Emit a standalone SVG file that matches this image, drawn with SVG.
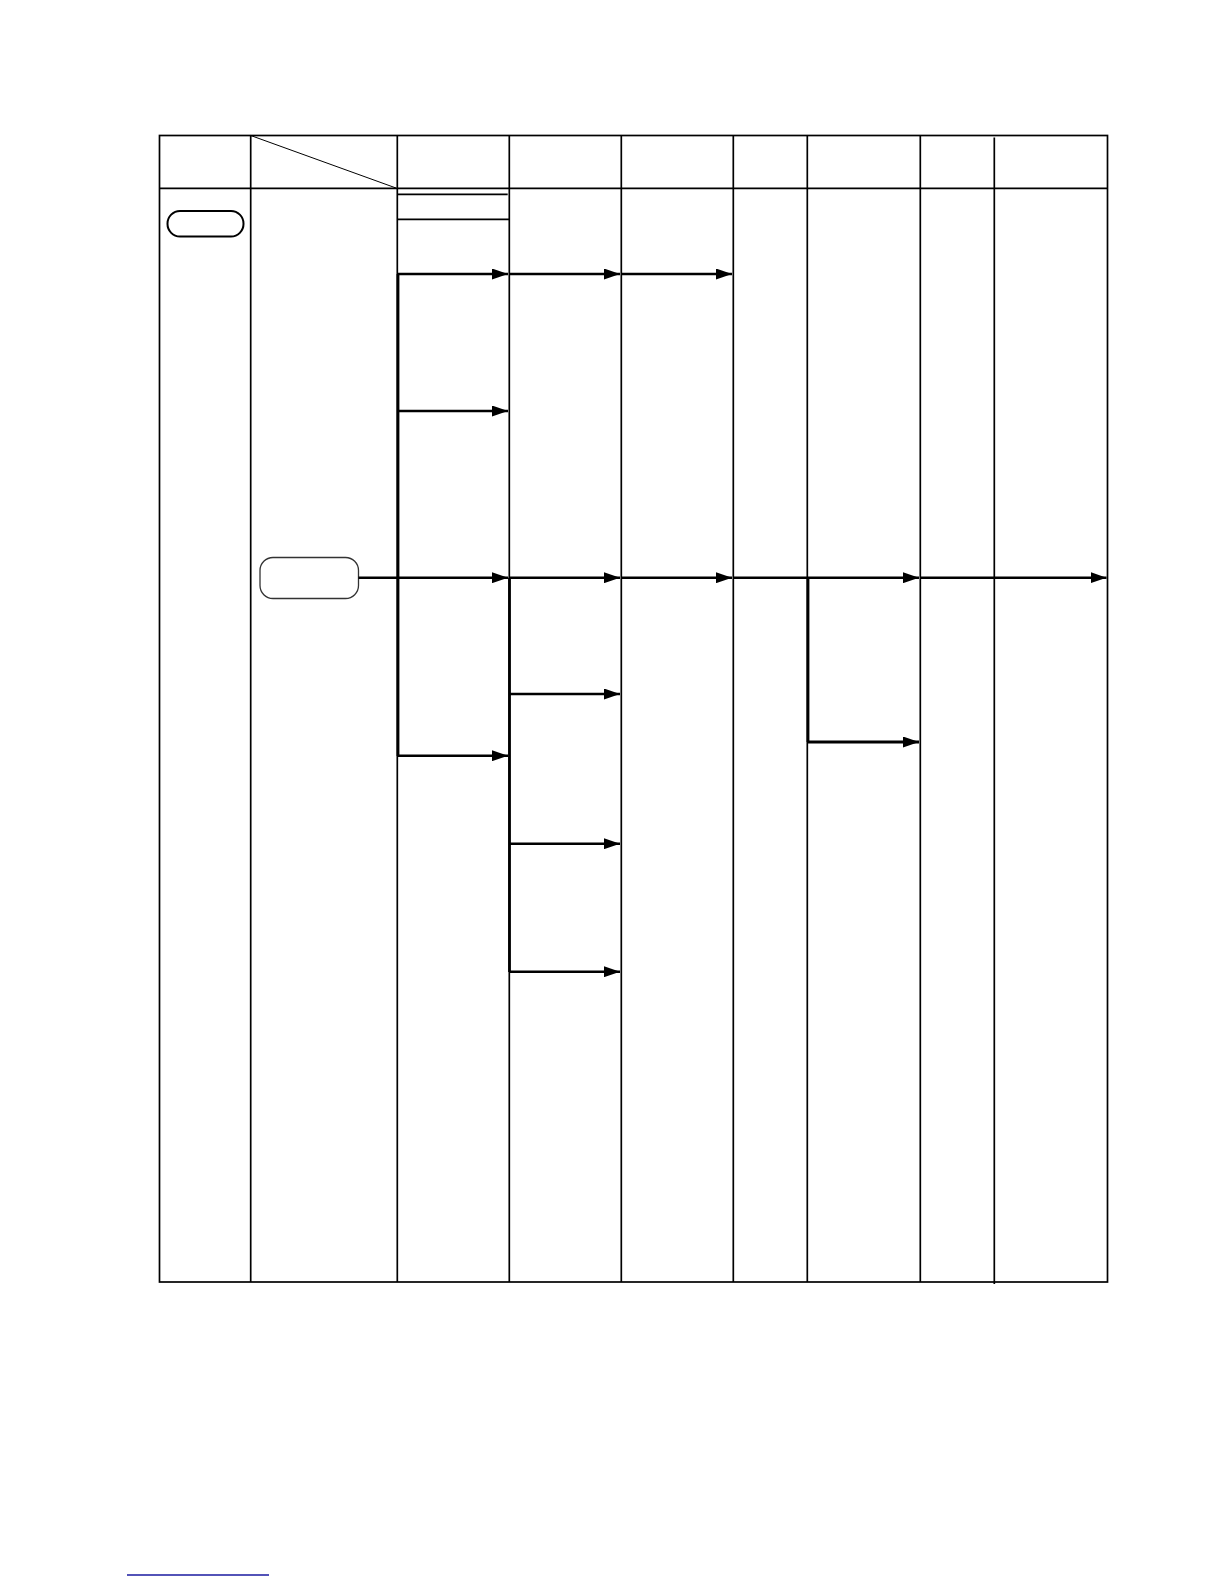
<svg xmlns="http://www.w3.org/2000/svg" width="1224" height="1584" viewBox="0 0 1224 1584">
<style>
.grid{stroke:#000;stroke-width:1.7;fill:none}
.thin{stroke:#000;stroke-width:1;fill:none}
.flow{stroke:#000;stroke-width:2.4;fill:none}
.trunk{stroke:#000;stroke-width:2.8;fill:none}
</style>
<defs>
<marker id="ah" viewBox="0 0 16 11" refX="16" refY="5.5" markerWidth="16" markerHeight="11" markerUnits="userSpaceOnUse" orient="auto">
<path d="M0,0 L16,5.5 L0,11 Z" fill="#000"/>
</marker>
</defs>
<rect width="1224" height="1584" fill="#fff"/>
<g id="table">
<rect class="grid" x="159.5" y="135.5" width="948" height="1146.5"/>
<line class="grid" x1="159.5" y1="188.3" x2="1107.5" y2="188.3"/>
<line class="grid" x1="250.7" y1="135.5" x2="250.7" y2="1282"/>
<line class="grid" x1="397.3" y1="135.5" x2="397.3" y2="1282"/>
<line class="grid" x1="509.3" y1="135.5" x2="509.3" y2="1282"/>
<line class="grid" x1="621.3" y1="135.5" x2="621.3" y2="1282"/>
<line class="grid" x1="733.3" y1="135.5" x2="733.3" y2="1282"/>
<line class="grid" x1="807.3" y1="135.5" x2="807.3" y2="1282"/>
<line class="grid" x1="920.3" y1="135.5" x2="920.3" y2="1282"/>
<line class="grid" x1="994.3" y1="137.5" x2="994.3" y2="1284"/>
<line class="thin" x1="250.7" y1="135.5" x2="396" y2="188"/>
<line class="grid" x1="397.3" y1="194.3" x2="507.7" y2="194.3"/>
<line class="grid" x1="397.3" y1="219.3" x2="509.3" y2="219.3"/>
</g>
<g id="node-start">
<rect x="167.5" y="211" width="76" height="25.5" rx="12.5" ry="12.5" fill="#fff" stroke="#000" stroke-width="2"/>
</g>
<g id="node-process">
<rect x="260" y="557.5" width="98.5" height="41" rx="13" ry="13" fill="#fff" stroke="#333" stroke-width="1.3"/>
</g>
<g id="connectors">
<path class="trunk" d="M398,274 V756"/>
<path class="trunk" d="M509.5,577.7 V972"/>
<path class="trunk" d="M808,578 V742"/>
<path class="flow" d="M398,274 H508" marker-end="url(#ah)"/>
<path class="flow" d="M509.3,274 H620" marker-end="url(#ah)"/>
<path class="flow" d="M621.3,274 H732" marker-end="url(#ah)"/>
<path class="flow" d="M398,411 H508" marker-end="url(#ah)"/>
<path class="flow" d="M358.5,577.7 H508" marker-end="url(#ah)"/>
<path class="flow" d="M509.3,577.7 H620" marker-end="url(#ah)"/>
<path class="flow" d="M621.3,577.7 H732" marker-end="url(#ah)"/>
<path class="flow" d="M733.3,577.7 H919" marker-end="url(#ah)"/>
<path class="flow" d="M920.3,577.7 H1106.5" marker-end="url(#ah)"/>
<path class="flow" d="M398,755.7 H508" marker-end="url(#ah)"/>
<path class="flow" d="M509.3,694 H620" marker-end="url(#ah)"/>
<path class="flow" d="M509.3,843.7 H620" marker-end="url(#ah)"/>
<path class="flow" d="M509.3,971.7 H620" marker-end="url(#ah)"/>
<path class="trunk" d="M808,742 H919" marker-end="url(#ah)"/>
</g>
<line x1="127" y1="1575" x2="269" y2="1575" stroke="#1a1aa0" stroke-width="1.5"/>
</svg>
